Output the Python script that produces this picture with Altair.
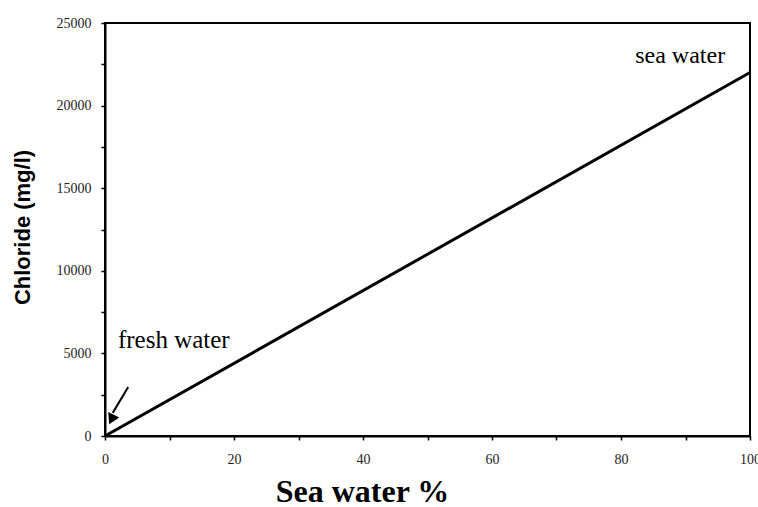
import altair as alt
import pandas as pd

# Data
sea_pct = [0, 100]
chloride = [0, 22000]

label_text = ["fresh water", "sea water"]
label_x = [2.0, 82.2]
label_y = [5330, 22580]
label_size = [25, 24]

arrow_x = [3.6, 1.2]
arrow_y = [2960, 1400]
head_x = [1.0]
head_y = [1000]

x_ticks = list(range(0, 101, 10))
y_ticks = list(range(0, 25001, 2500))

line_df = pd.DataFrame({"x": sea_pct, "y": chloride})
lab_df = pd.DataFrame({"t": label_text, "x": label_x, "y": label_y, "s": label_size})
arr_df = pd.DataFrame({"x": arrow_x, "y": arrow_y})
head_df = pd.DataFrame({"x": head_x, "y": head_y})

xs = alt.Scale(domain=[0, 100], nice=False, zero=False)
ys = alt.Scale(domain=[0, 25000], nice=False, zero=False)

x_axis = alt.Axis(
    values=x_ticks,
    labelExpr="datum.value % 20 == 0 ? datum.label : ''",
    title="Sea water %",
    titleFont="Liberation Serif", titleFontSize=32, titleFontWeight="bold",
    titleX=257, titleY=65, titleBaseline="alphabetic", titleAlign="center",
    labelFont="Liberation Serif", labelFontSize=14, labelColor="#222",
    labelPadding=12, tickSize=4, tickColor="black", tickWidth=1.5,
    domainColor="black", domainWidth=2, grid=False, labelFlush=False,
)
y_axis = alt.Axis(
    values=y_ticks,
    labelExpr="datum.value % 5000 == 0 ? datum.label : ''",
    format="d",
    title="Chloride (mg/l)",
    titleFont="Liberation Sans", titleFontSize=22, titleFontWeight="bold",
    titleX=-76, titleY=204, titleAngle=-90, titleBaseline="alphabetic", titleAlign="center",
    labelFont="Liberation Serif", labelFontSize=14, labelColor="#222",
    labelPadding=10, tickSize=4, tickColor="black", tickWidth=1.5,
    domainColor="black", domainWidth=2, grid=False, labelFlush=False,
)

line = alt.Chart(line_df).mark_line(color="black", strokeWidth=3).encode(
    x=alt.X("x:Q", scale=xs, axis=x_axis),
    y=alt.Y("y:Q", scale=ys, axis=y_axis),
)

labels = alt.Chart(lab_df).mark_text(
    align="left", baseline="alphabetic", font="Liberation Serif", color="black"
).encode(
    x=alt.X("x:Q", scale=xs),
    y=alt.Y("y:Q", scale=ys),
    text="t:N",
    size=alt.Size("s:Q", scale=None, legend=None),
)

arrow = alt.Chart(arr_df).mark_line(color="black", strokeWidth=2).encode(
    x=alt.X("x:Q", scale=xs),
    y=alt.Y("y:Q", scale=ys),
)

head = alt.Chart(head_df).mark_point(
    shape="triangle-up", filled=True, color="black", size=150, angle=206, opacity=1
).encode(
    x=alt.X("x:Q", scale=xs),
    y=alt.Y("y:Q", scale=ys),
)

chart = alt.layer(line, arrow, head, labels).properties(
    width=645, height=413,
    padding={"left": 105, "top": 23, "right": 8, "bottom": 71},
    autosize=alt.AutoSizeParams(type="none"),
    background="white",
).configure_view(stroke="black", strokeWidth=2)

chart.save("out.html", embed_options={"renderer": "svg", "actions": False})
